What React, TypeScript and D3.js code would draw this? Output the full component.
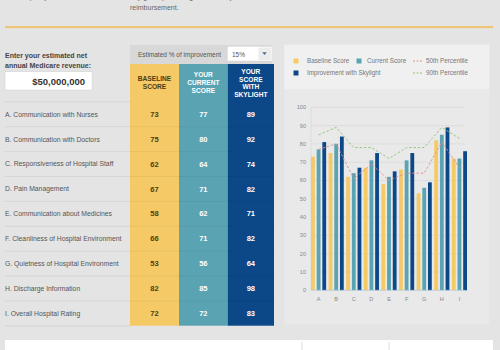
import React from 'react';
import * as d3 from 'd3';

// HCAHPS measures and scores
const letters = ['A', 'B', 'C', 'D', 'E', 'F', 'G', 'H', 'I'];
const measures = [
  'A. Communication with Nurses',
  'B. Communication with Doctors',
  'C. Responsiveness of Hospital Staff',
  'D. Pain Management',
  'E. Communication about Medicines',
  'F. Cleanliness of Hospital Environment',
  'G. Quietness of Hospital Environment',
  'H. Discharge Information',
  'I. Overall Hospital Rating',
];
const baseline = [73, 75, 62, 67, 58, 66, 53, 82, 72];
const current = [77, 80, 64, 71, 62, 71, 56, 85, 72];
const withSkylight = [89, 92, 74, 82, 71, 82, 64, 98, 83];
// chart series
const improvement = [81, 84, 67, 75, 65, 75, 59, 89, 76];
const p50 = [77, 80, 61, 69, 60, 64, 64, 81, 67];
const p90 = [85, 89, 78, 78, 72, 78, 78, 89, 83];
const yTicks = [0, 10, 20, 30, 40, 50, 60, 70, 80, 90, 100];

const GOLD = '#f4c966';
const TEAL = '#5aa3b3';
const NAVY = '#0c4887';
const FONT = '"Liberation Sans", Arial, sans-serif';

const App = () => {
  // table geometry
  const rowTop = 101.8;
  const rowH = 24.9;
  const cols = [
    { x: 130, w: 49, fill: GOLD, vals: baseline, color: '#4d3d14' },
    { x: 179, w: 48.7, fill: TEAL, vals: current, color: '#ffffff' },
    { x: 227.7, w: 46.3, fill: NAVY, vals: withSkylight, color: '#ffffff' },
  ];
  const headers = [
    { lines: ['BASELINE', 'SCORE'], ys: [79, 87], color: '#4d3d14' },
    { lines: ['YOUR', 'CURRENT', 'SCORE'], ys: [75, 83, 91], color: '#ffffff' },
    { lines: ['YOUR', 'SCORE', 'WITH', 'SKYLIGHT'], ys: [72, 79.5, 87, 94.5], color: '#ffffff' },
  ];

  // chart scales
  const x0 = d3.scaleBand<string>().domain(letters).range([311, 467]).paddingInner(0.14).paddingOuter(0);
  const x1 = d3.scaleBand<string>().domain(['b', 'c', 's']).range([0, x0.bandwidth()]).paddingInner(0.33);
  const y = d3.scaleLinear().domain([0, 100]).range([290.3, 107.3]);
  const cx = (i: number) => (x0(letters[i]) as number) + x0.bandwidth() / 2;
  const line = d3.line<number>().x((_, i) => cx(i)).y(d => y(d));
  const barSeries = [
    { key: 'b', vals: baseline, fill: GOLD },
    { key: 'c', vals: current, fill: TEAL },
    { key: 's', vals: improvement, fill: NAVY },
  ];

  return (
    <svg width={500} height={350} style={{ position: 'absolute', left: 0, top: 0 }} fontFamily={FONT}>
      <rect width={500} height={350} fill="#e4e4e4" />

      {/* intro text, scrolled partly out of view */}
      <text x={8} y={-1} fontSize={7} fill="#666">of the quality measures shown</text>
      <text x={130} y={-1} fontSize={7} fill="#666">any given percentage will affect your Medicare</text>
      <text x={130} y={10} fontSize={7} fill="#666">reimbursement.</text>
      <rect x={5} y={26} width={488} height={2.2} fill="#edc777" />

      {/* revenue input */}
      <text x={5} y={57.5} fontSize={7} fontWeight="bold" fill="#444">Enter your estimated net</text>
      <text x={5} y={67.5} fontSize={7} fontWeight="bold" fill="#444">annual Medicare revenue:</text>
      <rect x={5} y={71.7} width={87} height={18.3} fill="#fff" stroke="#d0d0d0" strokeWidth={0.5} />
      <text x={85} y={84.5} fontSize={9.5} fontWeight="bold" fill="#333" textAnchor="end">$50,000,000</text>

      {/* improvement selector */}
      <rect x={130} y={45} width={142} height={19} fill="#d8d8d8" />
      <text x={138} y={57} fontSize={6.5} fill="#555">Estimated % of improvement</text>
      <rect x={227.7} y={46.7} width={44} height={14} fill="#fff" />
      <text x={232} y={56.5} fontSize={6.5} fill="#555">15%</text>
      <rect x={258.5} y={47.5} width={12.5} height={12.5} fill="#ececec" />
      <path d="M262.3,52.3 L266.7,52.3 L264.5,55 Z" fill="#4a6a8a" />

      {/* score columns */}
      {cols.map((c, ci) => (
        <g key={ci}>
          <rect x={c.x} y={64} width={c.w} height={261.7} fill={c.fill} />
          {headers[ci].lines.map((t, li) => (
            <text key={li} x={c.x + c.w / 2} y={headers[ci].ys[li]} dy="0.35em" fontSize={6.6}
              fontWeight="bold" fill={headers[ci].color} textAnchor="middle">{t}</text>
          ))}
          {c.vals.map((v, i) => (
            <text key={i} x={c.x + c.w / 2} y={rowTop + rowH * (i + 0.5)} dy="0.35em" fontSize={7.5}
              fontWeight="bold" fill={c.color} textAnchor="middle">{v}</text>
          ))}
        </g>
      ))}

      {/* row labels and separators */}
      {measures.map((m, i) => (
        <text key={m} x={5} y={rowTop + rowH * (i + 0.5)} dy="0.35em" fontSize={6.8} fill="#555">{m}</text>
      ))}
      {d3.range(measures.length + 1).map(i => (
        <g key={i}>
          <line x1={5} x2={130} y1={rowTop + rowH * i} y2={rowTop + rowH * i} stroke="#d2d2d2" strokeWidth={0.8} />
          {i > 0 && i < measures.length && (
            <line x1={130} x2={274} y1={rowTop + rowH * i} y2={rowTop + rowH * i} stroke="#000" strokeOpacity={0.06} strokeWidth={0.8} />
          )}
        </g>
      ))}

      {/* chart panel */}
      <rect x={284.3} y={44.7} width={205} height={279.6} fill="#e9e9e9" />
      <rect x={284.3} y={44.7} width={205} height={44.3} fill="#f0f0f0" />

      {/* legend */}
      <rect x={293.5} y={58.5} width={5} height={5} fill={GOLD} />
      <text x={307} y={61} dy="0.35em" fontSize={6.3} fill="#777">Baseline Score</text>
      <rect x={356.5} y={58.5} width={5} height={5} fill={TEAL} />
      <text x={367} y={61} dy="0.35em" fontSize={6.3} fill="#777">Current Score</text>
      <line x1={413} x2={423} y1={61} y2={61} stroke="#e0908a" strokeDasharray="2,1.5" />
      <text x={426} y={61} dy="0.35em" fontSize={6.3} fill="#777">50th Percentile</text>
      <rect x={293.5} y={70.5} width={5} height={5} fill={NAVY} />
      <text x={307} y={73} dy="0.35em" fontSize={6.3} fill="#777">Improvement with Skylight</text>
      <line x1={413} x2={423} y1={73} y2={73} stroke="#8cc47a" strokeDasharray="2,1.5" />
      <text x={426} y={73} dy="0.35em" fontSize={6.3} fill="#777">90th Percentile</text>

      {/* y grid and ticks */}
      {yTicks.map(t => (
        <g key={t}>
          <line x1={311} x2={465} y1={y(t)} y2={y(t)} stroke="#d9d9d9" strokeWidth={0.8} />
          <text x={306} y={y(t)} dy="0.35em" fontSize={5.6} fill="#888" textAnchor="end">{t}</text>
        </g>
      ))}
      <line x1={311} x2={311} y1={y(100)} y2={y(0)} stroke="#d9d9d9" strokeWidth={0.8} />

      {/* grouped bars */}
      {letters.map((l, i) => (
        <g key={l} transform={`translate(${x0(l)},0)`}>
          {barSeries.map(s => (
            <rect key={s.key} x={x1(s.key)} y={y(s.vals[i])} width={x1.bandwidth()}
              height={y(0) - y(s.vals[i])} fill={s.fill} />
          ))}
        </g>
      ))}
      <line x1={311} x2={465} y1={y(0)} y2={y(0)} stroke="#b9cfe4" strokeWidth={0.8} />

      {/* percentile lines */}
      <path d={line(p50) as string} fill="none" stroke="#e0908a" strokeWidth={0.9} strokeDasharray="2.5,1.8" />
      <path d={line(p90) as string} fill="none" stroke="#8cc47a" strokeWidth={0.9} strokeDasharray="2.5,1.8" />

      {/* x labels */}
      {letters.map((l, i) => (
        <text key={l} x={cx(i)} y={299} dy="0.35em" fontSize={5.6} fill="#888" textAnchor="middle">{l}</text>
      ))}

      {/* footer box */}
      <rect x={5} y={340} width={488} height={12} fill="#fff" />
      <line x1={302} x2={302} y1={342} y2={350} stroke="#ddd" />
      <line x1={389} x2={389} y1={342} y2={350} stroke="#ddd" />
    </svg>
  );
};

export default App;
